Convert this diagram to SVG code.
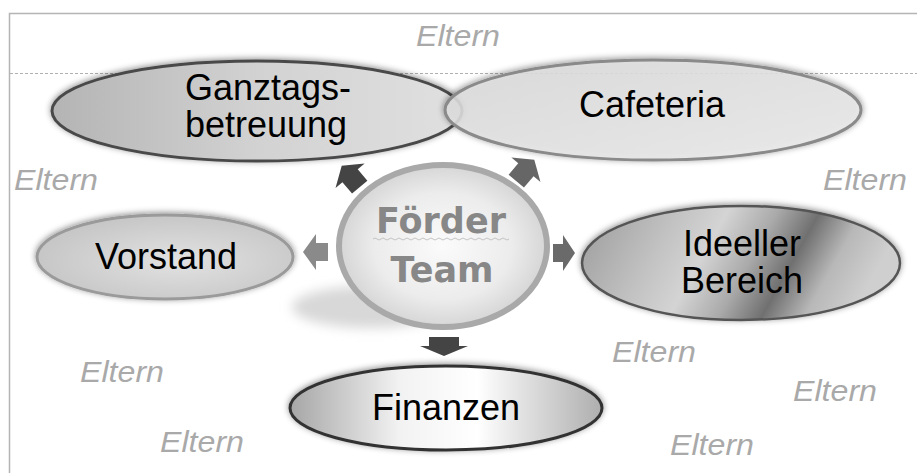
<svg xmlns="http://www.w3.org/2000/svg" width="917" height="473" viewBox="0 0 917 473">
  <defs>
    <style>
      .node-text { font-family: "Liberation Sans", Arial, sans-serif; font-size: 36px; fill: #000; text-anchor: middle; }
      .eltern { font-family: "Liberation Sans", Arial, sans-serif; font-size: 29px; font-style: italic; fill: #a9a9a9; }
      .center-text { font-family: "DejaVu Sans", Verdana, sans-serif; font-weight: bold; font-size: 35px; fill: #878787; text-anchor: middle; }
      .arrow { stroke: none; }
    </style>
    <filter id="glow" x="-10%" y="-20%" width="120%" height="140%">
      <feDropShadow dx="0" dy="-1" stdDeviation="3" flood-color="#000" flood-opacity="0.45"/>
    </filter>
    <filter id="blur" x="-30%" y="-60%" width="160%" height="220%">
      <feGaussianBlur stdDeviation="6"/>
    </filter>
    <linearGradient id="gGanz" x1="0" y1="0" x2="1" y2="0">
      <stop offset="0" stop-color="#b4b4b4"/>
      <stop offset="0.5" stop-color="#d2d2d2"/>
      <stop offset="1" stop-color="#e0e0e0"/>
    </linearGradient>
    <linearGradient id="gCafe" x1="0" y1="0" x2="1" y2="1">
      <stop offset="0" stop-color="#dcdcdc"/>
      <stop offset="1" stop-color="#eeeeee"/>
    </linearGradient>
    <radialGradient id="gVor" cx="0.55" cy="0.55" r="0.6">
      <stop offset="0" stop-color="#e2e2e2"/>
      <stop offset="1" stop-color="#c4c4c4"/>
    </radialGradient>
    <linearGradient id="gIde" x1="0" y1="0" x2="1" y2="0.2">
      <stop offset="0" stop-color="#9a9a9a"/>
      <stop offset="0.3" stop-color="#c2c2c2"/>
      <stop offset="0.45" stop-color="#d4d4d4"/>
      <stop offset="0.6" stop-color="#aaaaaa"/>
      <stop offset="0.73" stop-color="#707070"/>
      <stop offset="0.86" stop-color="#b8b8b8"/>
      <stop offset="1" stop-color="#cfcfcf"/>
    </linearGradient>
    <linearGradient id="gFin" x1="0" y1="0" x2="1" y2="0">
      <stop offset="0" stop-color="#a6a6a6"/>
      <stop offset="0.35" stop-color="#f2f2f2"/>
      <stop offset="0.6" stop-color="#ffffff"/>
      <stop offset="1" stop-color="#aeaeae"/>
    </linearGradient>
    <radialGradient id="gCenter" cx="0.5" cy="0.5" r="0.55">
      <stop offset="0" stop-color="#fbfbfb"/>
      <stop offset="0.6" stop-color="#ececec"/>
      <stop offset="1" stop-color="#cfcfcf"/>
    </radialGradient>
  </defs>

  <rect width="917" height="473" fill="#ffffff"/>

  <g id="frame">
    <path d="M9.5,473 L9.5,13.5 L917,13.5" fill="none" stroke="#b4b4b4" stroke-width="1.5"/>
    <line x1="10" y1="73.5" x2="917" y2="73.5" stroke="#b0b0b0" stroke-width="1" stroke-dasharray="3 2"/>
  </g>

  <g id="eltern-labels">
    <text class="eltern" x="416" y="46" textLength="84" lengthAdjust="spacingAndGlyphs">Eltern</text>
    <text class="eltern" x="14" y="190" textLength="84" lengthAdjust="spacingAndGlyphs">Eltern</text>
    <text class="eltern" x="823" y="190" textLength="84" lengthAdjust="spacingAndGlyphs">Eltern</text>
    <text class="eltern" x="80" y="382" textLength="84" lengthAdjust="spacingAndGlyphs">Eltern</text>
    <text class="eltern" x="612" y="362" textLength="84" lengthAdjust="spacingAndGlyphs">Eltern</text>
    <text class="eltern" x="793" y="401" textLength="84" lengthAdjust="spacingAndGlyphs">Eltern</text>
    <text class="eltern" x="160" y="452" textLength="84" lengthAdjust="spacingAndGlyphs">Eltern</text>
    <text class="eltern" x="670" y="455" textLength="84" lengthAdjust="spacingAndGlyphs">Eltern</text>
  </g>

  <g id="node-ganztags">
    <ellipse cx="257" cy="111" rx="205" ry="50" fill="url(#gGanz)" stroke="#4a4a4a" stroke-width="3" filter="url(#glow)"/>
    <text class="node-text" x="268" y="100">Ganztags-</text>
    <text class="node-text" x="266" y="137">betreuung</text>
  </g>

  <g id="node-cafeteria">
    <ellipse cx="653" cy="110" rx="208" ry="50" fill="url(#gCafe)" fill-opacity="0.85" stroke="#8a8a8a" stroke-width="3" filter="url(#glow)"/>
    <text class="node-text" x="652" y="117">Cafeteria</text>
  </g>

  <g id="node-vorstand">
    <ellipse cx="165" cy="257" rx="128" ry="42" fill="url(#gVor)" stroke="#9a9a9a" stroke-width="3" filter="url(#glow)"/>
    <text class="node-text" x="166" y="269">Vorstand</text>
  </g>

  <g id="node-ideeller">
    <ellipse cx="741" cy="263" rx="159" ry="57" fill="url(#gIde)" stroke="#555" stroke-width="2.5" filter="url(#glow)"/>
    <text class="node-text" x="742" y="256">Ideeller</text>
    <text class="node-text" x="742" y="293">Bereich</text>
  </g>

  <g id="node-finanzen">
    <ellipse cx="446" cy="408" rx="156" ry="42" fill="url(#gFin)" stroke="#333" stroke-width="3" filter="url(#glow)"/>
    <text class="node-text" x="446" y="420">Finanzen</text>
  </g>

  <g id="node-center">
    <ellipse cx="370" cy="307" rx="78" ry="21" fill="#d8d8d8" filter="url(#blur)"/>
    <ellipse cx="443" cy="246" rx="104" ry="81" fill="url(#gCenter)" stroke="#a9a9a9" stroke-width="6"/>
    <text class="center-text" x="441" y="233">Förder</text>
    <path d="M373,239 q2,-2 4,0 t4,0 t4,0 t4,0 t4,0 t4,0 t4,0 t4,0 t4,0 t4,0 t4,0 t4,0 t4,0 t4,0 t4,0 t4,0 t4,0 t4,0 t4,0 t4,0 t4,0 t4,0 t4,0 t4,0 t4,0 t4,0 t4,0 t4,0 t4,0 t4,0 t4,0 t4,0 t4,0 t4,0" fill="none" stroke="#b8b8b8" stroke-width="0.8"/>
    <text class="center-text" x="442" y="282">Team</text>
  </g>

  <g id="connectors">
    <path class="arrow" fill="#8a8a8a" d="M303,252 L316,234 L316,243 L328,243 L328,261 L316,261 L316,270 Z"/>
    <path class="arrow" fill="#6a6a6a" d="M575,253 L563,235 L563,244 L553,244 L553,262 L563,262 L563,271 Z"/>
    <path class="arrow" fill="#444444" d="M444,356 L420,346 L429,346 L429,337 L459,337 L459,346 L468,346 Z"/>
    <path class="arrow" fill="#444444" transform="translate(352,178) rotate(-40)" d="M0,-16 L19,-3 L10,-3 L10,12 L-10,12 L-10,-3 L-19,-3 Z"/>
    <path class="arrow" fill="#666666" transform="translate(524,172) rotate(40)" d="M0,-16 L19,-3 L10,-3 L10,12 L-10,12 L-10,-3 L-19,-3 Z"/>
  </g>
</svg>
